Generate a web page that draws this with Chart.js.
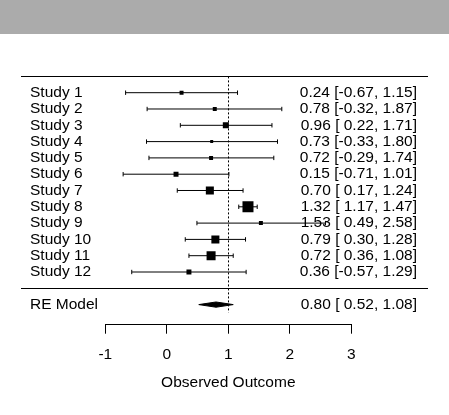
<!DOCTYPE html>
<html><head><meta charset="utf-8">
<script src="https://cdn.jsdelivr.net/npm/chart.js@4.4.0/dist/chart.umd.min.js"></script>
<style>
html,body{margin:0;padding:0;background:#fff;}
#banner{position:absolute;left:0;top:0;width:449px;height:34px;background:#ababab;}
#wrap{position:absolute;left:0;top:0;width:449px;height:415px;}
canvas{display:block;}
</style></head><body>
<div id="banner"></div>
<div id="wrap"><canvas id="c" width="449" height="415" style="width:449px;height:415px"></canvas></div>
<script>
// ---- data ----
const studies   = ["Study 1","Study 2","Study 3","Study 4","Study 5","Study 6","Study 7","Study 8","Study 9","Study 10","Study 11","Study 12"];
const estimates = [0.24, 0.78, 0.96, 0.73, 0.72, 0.15, 0.70, 1.32, 1.53, 0.79, 0.72, 0.36];
const lower     = [-0.67,-0.32, 0.22,-0.33,-0.29,-0.71, 0.17, 1.17, 0.49, 0.30, 0.36,-0.57];
const upper     = [1.15, 1.87, 1.71, 1.80, 1.74, 1.01, 1.24, 1.47, 2.58, 1.28, 1.08, 1.29];
const weights   = [5.6, 5.6, 8.5, 4.2, 5.6, 7.0, 11.3, 15.5, 5.6, 11.3, 12.7, 7.0]; // % (estimated from square sizes)
const summaryLabel = "RE Model";
const summaryEst = [0.80];
const summaryLo  = [0.52];
const summaryHi  = [1.08];
const xTicks = [-1, 0, 1, 2, 3];
const xTitle = "Observed Outcome";
const refValue = 1;

// ---- layout helpers ----
const k = studies.length;
const rows = studies.map((s, i) => k - i);
const summaryRow = -1;
const FONT = "'Liberation Sans', Arial, sans-serif";
const FS = 15.5;

function fmt(v){ const s = v.toFixed(2); return v < 0 ? s : " " + s; }
function ciText(e, lo, hi){ return e.toFixed(2) + " [" + fmt(lo) + ", " + hi.toFixed(2) + "]"; }

const datasets = [];
// squares (on top)
datasets.push({
  label: 'est',
  data: estimates.map((e, i) => ({x: e, y: rows[i]})),
  pointStyle: 'rect',
  pointRadius: weights.map(w => (w * 0.71) / 1.4142),
  pointBackgroundColor: '#000',
  pointBorderWidth: 0,
  showLine: false,
  order: 0
});
// CI lines with caps
estimates.forEach((e, i) => {
  datasets.push({
    label: 'ci' + i,
    data: [{x: lower[i], y: rows[i]}, {x: upper[i], y: rows[i]}],
    showLine: true,
    borderColor: '#000',
    borderWidth: 1,
    pointStyle: 'line',
    rotation: 90,
    pointRadius: 2.2,
    pointBorderColor: '#000',
    pointBorderWidth: 1,
    order: 2
  });
});
// summary diamond
const h = 0.16;
datasets.push({
  label: 'diamond',
  data: [
    {x: summaryLo[0], y: summaryRow},
    {x: summaryEst[0], y: summaryRow + h},
    {x: summaryHi[0], y: summaryRow},
    {x: summaryEst[0], y: summaryRow - h},
    {x: summaryLo[0], y: summaryRow}
  ],
  showLine: true,
  borderColor: '#000',
  borderWidth: 1,
  backgroundColor: '#000',
  fill: 'shape',
  pointRadius: 0,
  order: 1
});

const annot = {
  id: 'annot',
  beforeDatasetsDraw(chart){
    const ctx = chart.ctx, xs = chart.scales.x, ys = chart.scales.y;
    ctx.save();
    ctx.strokeStyle = '#000'; ctx.lineWidth = 1;
    [k + 1, 0].forEach(r => {
      const y = Math.round(ys.getPixelForValue(r)) + 0.5;
      ctx.beginPath(); ctx.moveTo(21, y); ctx.lineTo(chart.width - 21, y); ctx.stroke();
    });
    const xr = Math.round(xs.getPixelForValue(refValue)) + 0.5;
    ctx.setLineDash([2, 2]);
    ctx.beginPath();
    ctx.moveTo(xr, ys.getPixelForValue(k + 1));
    ctx.lineTo(xr, ys.getPixelForValue(-1.5));
    ctx.stroke();
    ctx.restore();
  },
  afterDraw(chart){
    const ctx = chart.ctx, ys = chart.scales.y;
    ctx.save();
    ctx.fillStyle = '#000';
    ctx.font = FS + 'px ' + FONT;
    ctx.textBaseline = 'middle';
    studies.forEach((s, i) => {
      const y = ys.getPixelForValue(rows[i]);
      ctx.textAlign = 'left'; ctx.fillText(s, 30, y);
      ctx.textAlign = 'right'; ctx.fillText(ciText(estimates[i], lower[i], upper[i]), chart.width - 32, y);
    });
    const ys2 = ys.getPixelForValue(summaryRow);
    ctx.textAlign = 'left'; ctx.fillText(summaryLabel, 30, ys2);
    ctx.textAlign = 'right'; ctx.fillText(ciText(summaryEst[0], summaryLo[0], summaryHi[0]), chart.width - 32, ys2);
    ctx.restore();
  }
};

new Chart(document.getElementById('c'), {
  type: 'scatter',
  data: { datasets },
  plugins: [annot],
  options: {
    responsive: false,
    animation: false,
    events: [],
    layout: { padding: { left: 105.3, right: 97.7, top: 34, bottom: 0 } },
    plugins: { legend: { display: false }, tooltip: { enabled: false } },
    elements: { line: { tension: 0 } },
    scales: {
      x: {
        type: 'linear', min: -1, max: 3,
        afterBuildTicks: s => { s.ticks = xTicks.map(v => ({value: v})); },
        afterFit: s => { s.height = 90.3; },
        border: { display: true, color: '#000', width: 1 },
        grid: { drawOnChartArea: false, drawTicks: true, tickLength: 9, color: '#000', lineWidth: 1 },
        ticks: { color: '#000', padding: 11.3, font: { family: FONT, size: FS }, maxRotation: 0, autoSkip: false },
        title: { display: true, text: xTitle, color: '#000', font: { family: FONT, size: FS }, padding: { top: 0, bottom: 23.2 } }
      },
      y: {
        type: 'linear', min: -2.233, max: 15.601, display: false
      }
    }
  }
});
</script>
</body></html>
